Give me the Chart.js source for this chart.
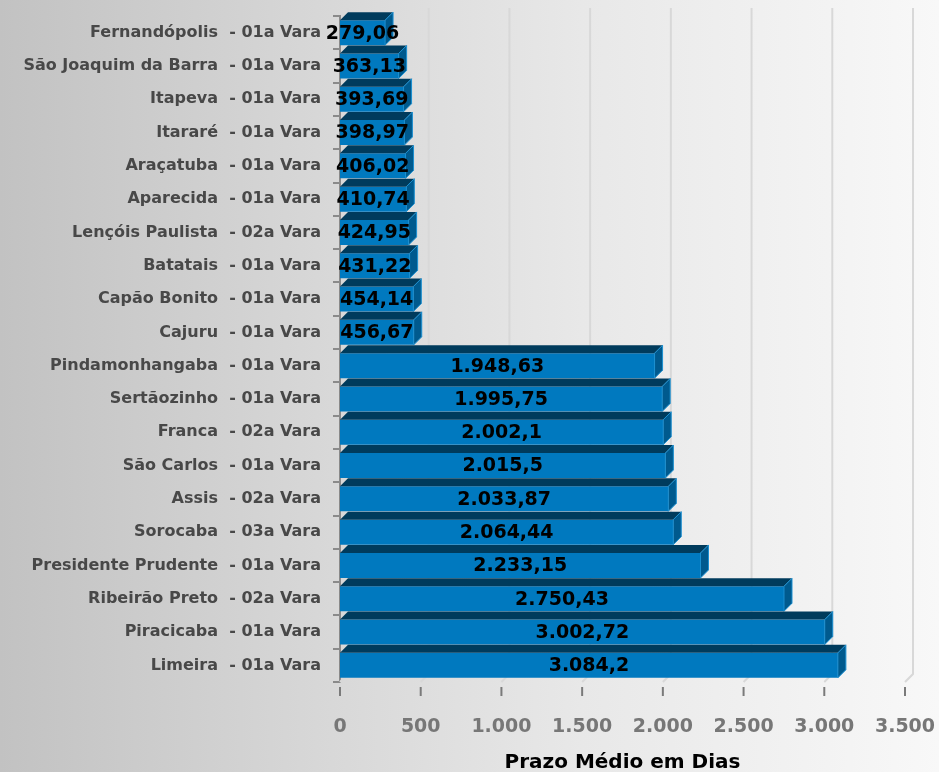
<!DOCTYPE html>
<html>
<head>
<meta charset="utf-8">
<script src="https://cdn.jsdelivr.net/npm/chart.js@4"></script>
<style>
    html, body { margin: 0; padding: 0; }
    body {
        width: 939px;
        height: 772px;
        background: linear-gradient(to right, #c2c2c2 0%, #d6d6d6 32%, #e8e8e8 62%, #f8f8f8 100%);
    }
    #wrap { width: 939px; height: 772px; }
</style>
</head>
<body>
<div id="wrap"><canvas id="barChart"></canvas></div>
<script>
// Prazo médio por vara
const comarcas = [
    'Fernandópolis  - 01a Vara',
    'São Joaquim da Barra  - 01a Vara',
    'Itapeva  - 01a Vara',
    'Itararé  - 01a Vara',
    'Araçatuba  - 01a Vara',
    'Aparecida  - 01a Vara',
    'Lençóis Paulista  - 02a Vara',
    'Batatais  - 01a Vara',
    'Capão Bonito  - 01a Vara',
    'Cajuru  - 01a Vara',
    'Pindamonhangaba  - 01a Vara',
    'Sertãozinho  - 01a Vara',
    'Franca  - 02a Vara',
    'São Carlos  - 01a Vara',
    'Assis  - 02a Vara',
    'Sorocaba  - 03a Vara',
    'Presidente Prudente  - 01a Vara',
    'Ribeirão Preto  - 02a Vara',
    'Piracicaba  - 01a Vara',
    'Limeira  - 01a Vara'
];
const prazoMedio = [
    279.06, 363.13, 393.69, 398.97, 406.02, 410.74, 424.95, 431.22, 454.14, 456.67,
    1948.63, 1995.75, 2002.1, 2015.5, 2033.87, 2064.44, 2233.15, 2750.43, 3002.72, 3084.2
];
const xMin = 0;
const xMax = 3500;
const xStep = 500;
const axisTitle = 'Prazo Médio em Dias';

const DEPTH = 8;
const FONT = '"DejaVu Sans", Verdana, sans-serif';

// formato pt-BR: 3.084,2
function fmtBR(v) {
    const parts = String(v).split('.');
    const inteiro = parts[0].replace(/\B(?=(\d{3})+(?!\d))/g, '.');
    return parts.length > 1 ? inteiro + ',' + parts[1] : inteiro;
}

// 3D faces, back grid and value labels
const bar3d = {
    id: 'bar3d',
    beforeDatasetsDraw(chart) {
        const { ctx, chartArea, scales: { x } } = chart;
        ctx.save();
        x.ticks.forEach((t, i) => {
            const px = x.getPixelForTick(i);
            ctx.strokeStyle = '#d8d8d8';
            ctx.lineWidth = 2;
            ctx.beginPath();
            ctx.moveTo(px + DEPTH, chartArea.top - DEPTH);
            ctx.lineTo(px + DEPTH, chartArea.bottom - DEPTH);
            ctx.lineTo(px, chartArea.bottom);
            ctx.stroke();
            // tick marks below the floor
            ctx.strokeStyle = '#7a7a7a';
            ctx.beginPath();
            ctx.moveTo(px, chartArea.bottom + 5);
            ctx.lineTo(px, chartArea.bottom + 14);
            ctx.stroke();
        });
        ctx.restore();
    },
    afterDatasetsDraw(chart) {
        const { ctx } = chart;
        const meta = chart.getDatasetMeta(0);
        ctx.save();
        meta.data.forEach((bar, i) => {
            const { x, y, base, height } = bar.getProps(['x', 'y', 'base', 'height'], true);
            const top = y - height / 2;
            const bottom = y + height / 2;

            // top face
            ctx.fillStyle = '#003b5c';
            ctx.beginPath();
            ctx.moveTo(base, top);
            ctx.lineTo(base + DEPTH, top - DEPTH);
            ctx.lineTo(x + DEPTH, top - DEPTH);
            ctx.lineTo(x, top);
            ctx.closePath();
            ctx.fill();

            // right face
            ctx.fillStyle = '#005a8e';
            ctx.beginPath();
            ctx.moveTo(x, top);
            ctx.lineTo(x + DEPTH, top - DEPTH);
            ctx.lineTo(x + DEPTH, bottom - DEPTH);
            ctx.lineTo(x, bottom);
            ctx.closePath();
            ctx.fill();
            ctx.strokeStyle = '#1a8fd0';
            ctx.lineWidth = 1;
            ctx.stroke();

            // value label
            ctx.fillStyle = '#000';
            ctx.font = 'bold 19px ' + FONT;
            ctx.textAlign = 'center';
            ctx.textBaseline = 'middle';
            ctx.fillText(fmtBR(prazoMedio[i]), (base + x) / 2, y + 1);
        });
        ctx.restore();
    }
};

document.addEventListener('DOMContentLoaded', () => {
    const ctx = document.getElementById('barChart');

    new Chart(ctx, {
        type: 'bar',
        data: {
            labels: comarcas,
            datasets: [{
                data: prazoMedio,
                backgroundColor: '#0079bf',
                borderWidth: 0,
                categoryPercentage: 1,
                barPercentage: 0.75
            }]
        },
        options: {
            indexAxis: 'y',
            responsive: true,
            maintainAspectRatio: false,
            animation: false,
            layout: {
                padding: { left: 0, right: 34, top: 16, bottom: 0 }
            },
            plugins: {
                legend: { display: false },
                tooltip: { enabled: false }
            },
            scales: {
                x: {
                    min: xMin,
                    max: xMax,
                    afterFit: (scale) => {
                        scale.height = 90;
                        scale.paddingLeft = 0;
                        scale.paddingRight = 0;
                    },
                    grid: { display: false },
                    border: { display: false },
                    ticks: {
                        stepSize: xStep,
                        padding: 26,
                        color: '#777',
                        font: { family: FONT, size: 19, weight: 'bold' },
                        callback: (value) => fmtBR(value)
                    },
                    title: {
                        display: true,
                        text: axisTitle,
                        color: '#000',
                        font: { family: FONT, size: 20, weight: 'bold', lineHeight: 1 },
                        padding: { top: 0, bottom: -1 }
                    }
                },
                y: {
                    afterFit: (scale) => {
                        scale.width = 340;
                        scale.paddingTop = 0;
                        scale.paddingBottom = 0;
                    },
                    grid: {
                        drawOnChartArea: false,
                        drawTicks: true,
                        tickLength: 7,
                        color: '#8a8a8a',
                        lineWidth: 2
                    },
                    border: { display: true, color: '#8a8a8a', width: 2 },
                    ticks: {
                        padding: 12,
                        color: '#484848',
                        font: { family: FONT, size: 16, weight: 'bold' }
                    }
                }
            }
        },
        plugins: [bar3d]
    });
});
</script>
</body>
</html>
